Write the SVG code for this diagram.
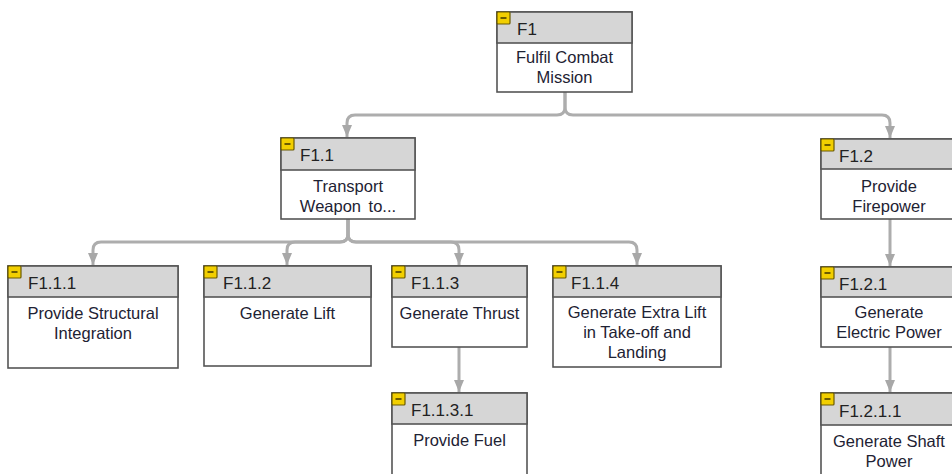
<svg xmlns="http://www.w3.org/2000/svg" width="952" height="474" viewBox="0 0 952 474">
<defs>
<style>
.box{fill:#fff;stroke:#555;stroke-width:1.6}
.hdr{fill:#d6d6d6;stroke:#555;stroke-width:1.6}
.id{font-family:"Liberation Sans",Arial,sans-serif;font-size:17px;fill:#222}
.lbl{font-family:"Liberation Sans",Arial,sans-serif;font-size:16.5px;fill:#1e2233;text-anchor:middle}
.ico{fill:#f2cf00;stroke:#6a5a00;stroke-width:1.2}
.icm{stroke:#4a3f00;stroke-width:1.6}
.con{fill:none;stroke:#adadad;stroke-width:3}
</style>
<marker id="ah" markerUnits="userSpaceOnUse" markerWidth="14" markerHeight="10" refX="12" refY="5" orient="auto">
<path d="M0,0 L12,5 L0,10 Z" fill="#a8a8a8"/>
</marker>
<g id="icon"><rect class="ico" x="0" y="0" width="13" height="12" rx="1"/><line class="icm" x1="3.5" y1="6" x2="9.5" y2="6"/></g>
</defs>
<rect width="952" height="474" fill="#fff"/>

<g id="connectors">
<path class="con" marker-end="url(#ah)" d="M565,92 V107 Q565,115 557,115 H355 Q347,115 347,123 V137"/>
<path class="con" marker-end="url(#ah)" d="M565,92 V107 Q565,115 573,115 H882 Q890,115 890,123 V138"/>
<path class="con" marker-end="url(#ah)" d="M348,219 V234 Q348,242 340,242 H101 Q93,242 93,250 V265"/>
<path class="con" marker-end="url(#ah)" d="M348,219 V234 Q348,242 340,242 H295 Q287,242 287,250 V265"/>
<path class="con" marker-end="url(#ah)" d="M348,219 V234 Q348,242 356,242 H451 Q459,242 459,250 V265"/>
<path class="con" marker-end="url(#ah)" d="M348,219 V234 Q348,242 356,242 H629 Q637,242 637,250 V265"/>
<path class="con" marker-end="url(#ah)" d="M459,347 V392"/>
<path class="con" marker-end="url(#ah)" d="M890,219 V266"/>
<path class="con" marker-end="url(#ah)" d="M890,347 V392"/>
</g>

<g id="F1">
<rect class="box" x="497" y="12" width="135" height="80"/>
<rect class="hdr" x="497" y="12" width="135" height="31"/>
<use href="#icon" x="497" y="12"/>
<text class="id" x="517" y="35">F1</text>
<text class="lbl" x="564.5" y="63">Fulfil Combat</text>
<text class="lbl" x="564.5" y="83">Mission</text>
</g>

<g id="F1.1">
<rect class="box" x="281" y="138" width="134" height="81"/>
<rect class="hdr" x="281" y="138" width="134" height="32"/>
<use href="#icon" x="281" y="138"/>
<text class="id" x="300" y="161">F1.1</text>
<text class="lbl" x="348" y="192">Transport</text>
<text class="lbl" x="348" y="212" word-spacing="3">Weapon to...</text>
</g>

<g id="F1.2">
<rect class="box" x="821" y="139" width="136" height="80"/>
<rect class="hdr" x="821" y="139" width="136" height="30"/>
<use href="#icon" x="821" y="139"/>
<text class="id" x="839" y="162">F1.2</text>
<text class="lbl" x="889" y="192">Provide</text>
<text class="lbl" x="889" y="212">Firepower</text>
</g>

<g id="F1.1.1">
<rect class="box" x="8" y="266" width="170" height="102"/>
<rect class="hdr" x="8" y="266" width="170" height="31"/>
<use href="#icon" x="8" y="266"/>
<text class="id" x="28" y="289">F1.1.1</text>
<text class="lbl" x="93" y="319">Provide Structural</text>
<text class="lbl" x="93" y="339">Integration</text>
</g>

<g id="F1.1.2">
<rect class="box" x="204" y="266" width="167" height="100"/>
<rect class="hdr" x="204" y="266" width="167" height="31"/>
<use href="#icon" x="204" y="266"/>
<text class="id" x="223" y="289">F1.1.2</text>
<text class="lbl" x="287.5" y="319">Generate Lift</text>
</g>

<g id="F1.1.3">
<rect class="box" x="392" y="266" width="135" height="81"/>
<rect class="hdr" x="392" y="266" width="135" height="31"/>
<use href="#icon" x="392" y="266"/>
<text class="id" x="411" y="289">F1.1.3</text>
<text class="lbl" x="459.5" y="319">Generate Thrust</text>
</g>

<g id="F1.1.4">
<rect class="box" x="553" y="266" width="168" height="101"/>
<rect class="hdr" x="553" y="266" width="168" height="31"/>
<use href="#icon" x="553" y="266"/>
<text class="id" x="571" y="289">F1.1.4</text>
<text class="lbl" x="637" y="318">Generate Extra Lift</text>
<text class="lbl" x="637" y="338">in Take-off and</text>
<text class="lbl" x="637" y="358">Landing</text>
</g>

<g id="F1.1.3.1">
<rect class="box" x="392" y="393" width="135" height="90"/>
<rect class="hdr" x="392" y="393" width="135" height="31"/>
<use href="#icon" x="392" y="393"/>
<text class="id" x="411" y="416">F1.1.3.1</text>
<text class="lbl" x="459.5" y="446">Provide Fuel</text>
</g>

<g id="F1.2.1">
<rect class="box" x="821" y="267" width="136" height="80"/>
<rect class="hdr" x="821" y="267" width="136" height="30"/>
<use href="#icon" x="821" y="267"/>
<text class="id" x="839" y="290">F1.2.1</text>
<text class="lbl" x="889" y="318">Generate</text>
<text class="lbl" x="889" y="338">Electric Power</text>
</g>

<g id="F1.2.1.1">
<rect class="box" x="821" y="393" width="136" height="90"/>
<rect class="hdr" x="821" y="393" width="136" height="32"/>
<use href="#icon" x="821" y="393"/>
<text class="id" x="839" y="417">F1.2.1.1</text>
<text class="lbl" x="889" y="447">Generate Shaft</text>
<text class="lbl" x="889" y="467">Power</text>
</g>
</svg>
